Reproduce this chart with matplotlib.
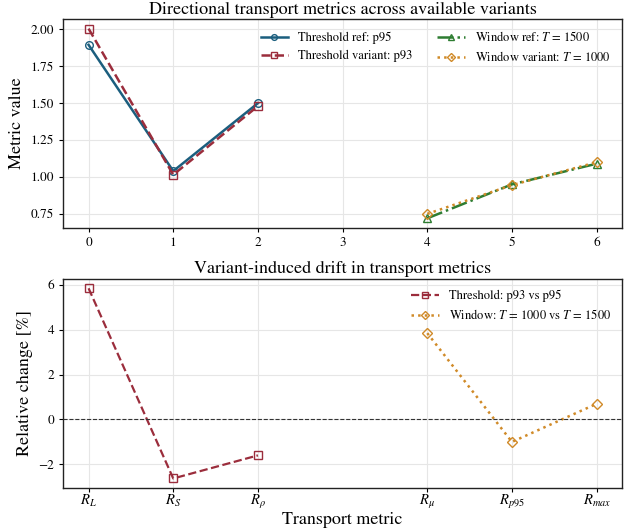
import matplotlib
matplotlib.use("Agg")
import matplotlib.pyplot as plt
import numpy as np

plt.rcParams['font.family'] = ['STIXGeneral', 'DejaVu Serif']
plt.rcParams['mathtext.fontset'] = 'stix'

# Top panel data
thr_x = [0, 1, 2]
thr_ref = [1.895, 1.04, 1.50]
thr_var = [2.005, 1.015, 1.48]
win_x = [4, 5, 6]
win_ref = [0.72, 0.95, 1.09]
win_var = [0.75, 0.945, 1.10]

# Bottom panel data
metric_labels = [r'$R_L$', r'$R_S$', r'$R_\rho$', r'$R_\mu$', r'$R_{p95}$', r'$R_{max}$']
thr_drift = [5.85, -2.63, -1.60]
win_drift = [3.85, -1.00, 0.70]

c_ref = '#1b5e7e'
c_var = '#9b2d3c'
c_wref = '#2e7d32'
c_wvar = '#d08a28'

fig = plt.figure(figsize=(6.38, 5.31), dpi=100)
ax1 = fig.add_axes([0.099, 0.571, 0.876, 0.393])
ax2 = fig.add_axes([0.099, 0.081, 0.876, 0.394])

kw = dict(ms=5.5, mfc='none', mew=1.0)
legkw = dict(fontsize=9, frameon=False, handlelength=2.2, handletextpad=0.8,
             labelspacing=0.45, borderaxespad=0.5, markerscale=0.75)
ax1.plot(thr_x, thr_ref, '-', marker='o', color=c_ref, lw=1.8, label='Threshold ref: p95', **kw)
ax1.plot(thr_x, thr_var, '--', marker='s', color=c_var, lw=1.8, label='Threshold variant: p93', **kw)
ax1.plot(win_x, win_ref, '-.', marker='^', color=c_wref, lw=1.8, label=r'Window ref: $T$ = 1500', **kw)
ax1.plot(win_x, win_var, ':', marker='D', color=c_wvar, lw=1.8, label=r'Window variant: $T$ = 1000', **kw)
ax1.set_xticks(range(7))
ax1.set_yticks([0.75, 1.00, 1.25, 1.50, 1.75, 2.00])
ax1.set_ylabel('Metric value', fontsize=13)
ax1.set_title('Directional transport metrics across available variants', fontsize=13, pad=4)
ax1.legend(ncol=2, loc='upper right', columnspacing=2.0, **legkw)

ax2.plot(thr_x, thr_drift, '--', marker='s', color=c_var, lw=1.6, label='Threshold: p93 vs p95', **kw)
ax2.plot(win_x, win_drift, ':', marker='D', color=c_wvar, lw=1.8,
         label=r'Window: $T$ = 1000 vs $T$ = 1500', **kw)
ax2.axhline(0, color='#333333', lw=0.8, ls='--')
ax2.set_xticks([0, 1, 2, 4, 5, 6])
ax2.set_xticklabels(metric_labels)
ax2.set_xlim(ax1.get_xlim())
ax2.set_yticks([-2, 0, 2, 4, 6])
ax2.set_ylabel('Relative change [%]', fontsize=13)
ax2.set_xlabel('Transport metric', fontsize=13, labelpad=1)
ax2.set_title('Variant-induced drift in transport metrics', fontsize=13, pad=4)
ax2.legend(loc='upper right', **legkw)

for ax in (ax1, ax2):
    ax.grid(True, color='#e6e6e6', lw=0.8)
    ax.set_axisbelow(True)
    ax.tick_params(labelsize=9.5, direction='out', length=3)
    for s in ax.spines.values():
        s.set_linewidth(1.0)
        s.set_color('#222222')
ax2.tick_params(axis='x', labelsize=10.5, pad=0.5)

fig.savefig('out.png', dpi=100)
